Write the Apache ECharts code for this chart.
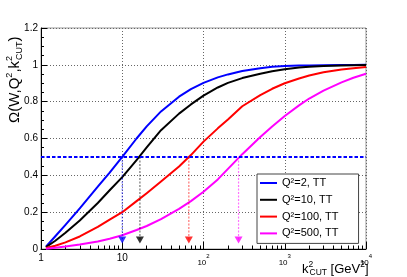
<!DOCTYPE html>
<html><head><meta charset="utf-8">
<script src="https://cdn.jsdelivr.net/npm/echarts@6/dist/echarts.min.js"></script>
<style>html,body{margin:0;padding:0;background:#fff}#c{width:407px;height:277px}</style>
</head><body><div id="c"></div>
<script>
const kCut = [1.15,1.5,2,3,5,7,10,15,20,30,50,70,100,150,200,300,500,700,1000,1500,2000,3000,5000,7000,10000];
const omegaQ2_2   = [0.013,0.069,0.131,0.221,0.339,0.415,0.50,0.60,0.666,0.747,0.827,0.868,0.902,0.932,0.948,0.966,0.982,0.989,0.993,0.996,0.997,0.998,0.999,0.9995,1.0];
const omegaQ2_10  = [0.01,0.045,0.088,0.155,0.25,0.319,0.39,0.483,0.552,0.645,0.735,0.785,0.833,0.877,0.902,0.928,0.952,0.965,0.976,0.985,0.989,0.993,0.996,0.998,0.999];
const omegaQ2_100 = [0.005,0.018,0.036,0.068,0.12,0.16,0.20,0.26,0.303,0.366,0.448,0.51,0.583,0.655,0.703,0.775,0.835,0.87,0.90,0.926,0.942,0.96,0.975,0.982,0.988];
const omegaQ2_500 = [0.002,0.007,0.013,0.024,0.041,0.056,0.075,0.103,0.125,0.162,0.218,0.26,0.311,0.378,0.435,0.515,0.608,0.665,0.722,0.78,0.817,0.86,0.905,0.93,0.952];
const seriesNames = ['Q²=2, TT','Q²=10, TT','Q²=100, TT','Q²=500, TT'];
const seriesColors = ['#0000ff','#000000','#ff0000','#ff00ff'];
const halfLevel = 0.5;
const halfCrossK = [10, 16.5, 66, 270];
const arrowLevel = 0.049;
const xTickLabels = ['1','10','10^2','10^3','10^4'];
const yTickLabels = ['0','0.2','0.4','0.6','0.8','1','1.2'];

const FONT = 'Liberation Sans';
const fnt = (px) => px + 'px "Liberation Sans", Arial, sans-serif';
const curves = [omegaQ2_2, omegaQ2_10, omegaQ2_100, omegaQ2_500];
const xMinorTicks = [];
[1,10,100,1000].forEach(d => { for (let m = 2; m <= 9; m++) xMinorTicks.push(m * d); });

const series = [];
curves.forEach((ys, i) => {
  series.push({
    name: seriesNames[i], type: 'line', xAxisIndex: 0, yAxisIndex: 0,
    data: kCut.map((k, j) => [k, ys[j]]),
    symbol: 'none', showSymbol: false, smooth: false,
    lineStyle: { color: seriesColors[i], width: 2, join: 'round' }, itemStyle: { color: seriesColors[i] },
    z: 2
  });
});
halfCrossK.forEach((k, i) => {
  series.push({
    type: 'line', xAxisIndex: 0, yAxisIndex: 0, silent: true,
    data: [[k, halfLevel], [k, arrowLevel]], symbol: 'none',
    lineStyle: { color: seriesColors[i], width: 1.2, opacity: 0.55, type: [2, 1.5] }, z: 3
  });
  series.push({
    type: 'scatter', xAxisIndex: 0, yAxisIndex: 0, silent: true,
    data: [[k, arrowLevel]], symbol: 'triangle', symbolRotate: 180, symbolSize: [8, 7],
    itemStyle: { color: seriesColors[i] }, z: 4
  });
});
series.push({
  type: 'line', xAxisIndex: 0, yAxisIndex: 0, data: [], silent: true,
  markLine: {
    silent: true, symbol: 'none', label: { show: false },
    lineStyle: { color: '#0000ff', width: 2, type: [3.5, 2] },
    data: [{ yAxis: halfLevel }]
  }, z: 5
});

const titleRich = (base, small) => ({
  t: { font: fnt(base), fill: '#000', lineHeight: base + 4 },
  p: { font: fnt(small), fill: '#000', lineHeight: small, verticalAlign: 'top', width: 1 },
  b: { font: fnt(small), fill: '#000', lineHeight: small, verticalAlign: 'bottom' },
  q: { font: fnt(small), fill: '#000', lineHeight: small, verticalAlign: 'top' }
});

const chart = echarts.init(document.getElementById('c'), null, { renderer: 'canvas' });
chart.setOption({
  animation: false,
  backgroundColor: '#fff',
  textStyle: { fontFamily: FONT },
  grid: { left: 41, right: 41, top: 28, bottom: 28, containLabel: false, outerBoundsMode: 'none',
          show: true, borderColor: '#999', borderWidth: 1 },
  legend: {
    data: seriesNames, orient: 'vertical', left: 257, top: 174,
    padding: [3, 20, 4, 3], itemWidth: 17, itemHeight: 2, itemGap: 4.8, icon: 'rect',
    backgroundColor: '#fff', borderColor: '#444', borderWidth: 1,
    textStyle: { fontSize: 11, fontFamily: FONT, color: '#000', lineHeight: 12 }
  },
  xAxis: [{
    type: 'log', logBase: 10, min: 1, max: 10000, position: 'bottom',
    axisLine: { lineStyle: { color: '#000', width: 1 } },
    axisTick: { inside: true, length: 7, lineStyle: { color: '#000' } },
    axisLabel: {
      margin: 4, color: '#000', fontSize: 10, fontFamily: FONT,
      formatter: (v) => {
        const idx = Math.round(Math.log10(v));
        const t = xTickLabels[idx];
        if (t.indexOf('^') < 0) return t;
        const p = t.split('^');
        return '{b|' + p[0] + '}{s|' + p[1] + '}';
      },
      rich: {
        b: { fontSize: 8, fontFamily: FONT, color: '#000', lineHeight: 14, verticalAlign: 'bottom' },
        s: { fontSize: 6, fontFamily: FONT, color: '#000', lineHeight: 8, verticalAlign: 'top' }
      }
    },
    splitLine: { show: true, lineStyle: { color: '#666', type: [1, 2], width: 1 } }
  }, {
    type: 'log', logBase: 10, min: 1, max: 10000, position: 'bottom',
    axisLine: { show: false }, axisLabel: { show: false }, splitLine: { show: false },
    axisTick: { inside: true, length: 3.5, customValues: xMinorTicks, lineStyle: { color: '#000' } }
  }],
  yAxis: {
    type: 'value', min: 0, max: 1.2, interval: 0.2,
    axisLine: { show: true, lineStyle: { color: '#000', width: 1 } },
    axisTick: { show: true, inside: true, length: 6, lineStyle: { color: '#000' } },
    minorTick: { show: true, splitNumber: 4, length: 3, lineStyle: { color: '#000' } },
    axisLabel: {
      margin: 3, color: '#000', fontSize: 10, fontFamily: FONT,
      formatter: (v) => yTickLabels[Math.round(v / 0.2)]
    },
    splitLine: { show: true, lineStyle: { color: '#666', type: [1, 2], width: 1 } }
  },
  graphic: [{
    type: 'text', x: 15, y: 123, rotation: Math.PI / 2,
    style: {
      text: '{t|Ω(W,Q}{q|2}{t|,k}{p|2}{b|CUT}{t|)}',
      font: fnt(15), align: 'left', verticalAlign: 'middle',
      rich: titleRich(15, 9)
    }
  }, {
    type: 'text', x: 302, y: 269,
    style: {
      text: '{t|k}{p|2}{b|CUT}{t| [GeV}{q|2}{t|]}',
      font: fnt(13), align: 'left', verticalAlign: 'middle',
      rich: titleRich(13, 8.5)
    }
  }],
  series: series
});
</script>
</body></html>
